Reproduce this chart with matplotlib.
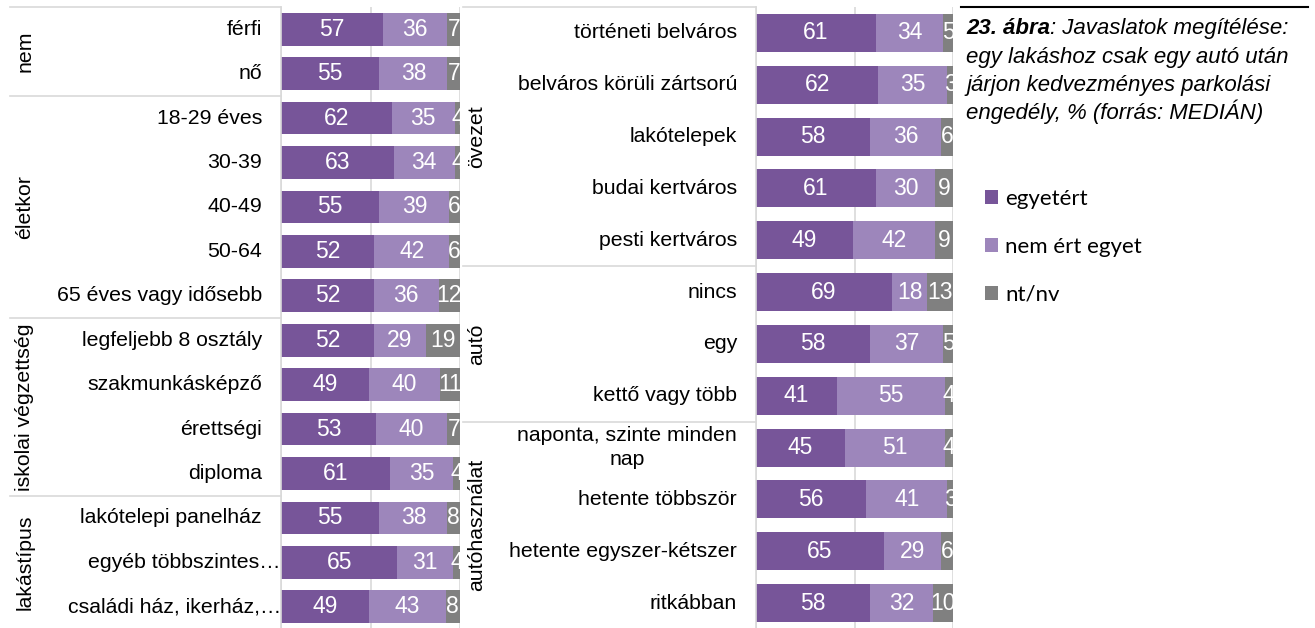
import matplotlib
matplotlib.use("Agg")
import matplotlib.pyplot as plt
import matplotlib.transforms as mtransforms
import numpy as np

plt.rcParams['font.family'] = ['Liberation Sans', 'DejaVu Sans']

# bal oldali panel: nem, életkor, iskolai végzettség, lakástípus
left_cats = ['férfi', 'nő', '18-29 éves', '30-39', '40-49', '50-64',
             '65 éves vagy idősebb', 'legfeljebb 8 osztály', 'szakmunkásképző',
             'érettségi', 'diploma', 'lakótelepi panelház',
             'egyéb többszintes…', 'családi ház, ikerház,…']
left_agree = [57, 55, 62, 63, 55, 52, 52, 52, 49, 53, 61, 55, 65, 49]
left_disagree = [36, 38, 35, 34, 39, 42, 36, 29, 40, 40, 35, 38, 31, 43]
left_na = [7, 7, 4, 4, 6, 6, 12, 19, 11, 7, 4, 8, 4, 8]
left_groups = ['nem', 'életkor', 'iskolai végzettség', 'lakástípus']
left_group_sizes = [2, 5, 4, 3]

# középső panel: övezet, autó, autóhasználat
mid_cats = ['történeti belváros', 'belváros körüli zártsorú', 'lakótelepek',
            'budai kertváros', 'pesti kertváros', 'nincs', 'egy',
            'kettő vagy több', 'naponta, szinte minden\nnap',
            'hetente többször', 'hetente egyszer-kétszer', 'ritkábban']
mid_agree = [61, 62, 58, 61, 49, 69, 58, 41, 45, 56, 65, 58]
mid_disagree = [34, 35, 36, 30, 42, 18, 37, 55, 51, 41, 29, 32]
mid_na = [5, 3, 6, 9, 9, 13, 5, 4, 4, 3, 6, 10]
mid_groups = ['övezet', 'autó', 'autóhasználat']
mid_group_sizes = [5, 3, 4]

series_names = ['egyetért', 'nem ért egyet', 'nt/nv']
colors = ['#775599', '#9d86bb', '#808080']
line_col = '#d9d9d9'

W, H = 1315, 628
fig = plt.figure(figsize=(W / 100, H / 100), dpi=100)


def px(x):
    return x / W


def panel(rect, cats, agree, disagree, na, groups, sizes, lab_left, group_x):
    ax = fig.add_axes(rect)
    y = np.arange(len(cats))
    left = np.zeros(len(cats))
    conts = []
    for vals, col, name in zip([agree, disagree, na], colors, series_names):
        c = ax.barh(y, vals, left=left, height=0.735, color=col, label=name, zorder=2)
        ax.bar_label(c, labels=[str(v) for v in vals], label_type='center',
                     color='white', fontsize=16.5, clip_on=True)
        left = left + np.array(vals)
        conts.append(c)
    ax.set_xlim(0, 100)
    ax.set_ylim(len(cats) - 0.5, -0.5)
    ax.set_xticks([0, 50, 100])
    ax.set_yticks([])
    ax.tick_params(length=0, labelbottom=False)
    ax.grid(axis='x', color=line_col, lw=1.2, zorder=0)
    for s in ['top', 'bottom', 'right']:
        ax.spines[s].set_visible(False)
    ax.spines['left'].set_color(line_col)
    ax.spines['left'].set_linewidth(1.2)

    # kategória feliratok
    for i, lab in enumerate(cats):
        pad = 0 if lab.endswith('…') else 19
        tr = ax.get_yaxis_transform() + mtransforms.ScaledTranslation(
            -pad / 100, 0, fig.dpi_scale_trans)
        ax.text(0, i, lab, transform=tr, ha='right', va='center', fontsize=15.3,
                multialignment='center', linespacing=1.35, clip_on=False)

    # csoport elválasztók és csoportnevek
    tr_line = mtransforms.blended_transform_factory(fig.transFigure, ax.transData)
    edges = np.concatenate([[0], np.cumsum(sizes)]) - 0.5
    for e in edges:
        ax.plot([lab_left, rect[0]], [e, e], color=line_col, lw=1.2,
                transform=tr_line, clip_on=False)
    for name, a, b in zip(groups, edges[:-1], edges[1:]):
        ax.text(group_x, (a + b) / 2, name, transform=tr_line, rotation=90,
                ha='center', va='center', fontsize=15.3)
    return ax, conts


ax1, _ = panel([px(281), -0.0016, px(460 - 281), 0.9904], left_cats, left_agree,
               left_disagree, left_na, left_groups, left_group_sizes, px(10), px(25))
ax2, conts = panel([px(756), -0.0016, px(953 - 756), 0.9904], mid_cats, mid_agree,
                   mid_disagree, mid_na, mid_groups, mid_group_sizes, px(463), px(477))

# cím a jobb oldalon
ov = fig.add_axes([0, 0, 1, 1])
ov.axis('off')
ov.set_xlim(0, 1)
ov.set_ylim(0, 1)
ov.plot([px(961), px(1308)], [1 - 6.7 / H, 1 - 6.7 / H], color='black', lw=1.5)
t1 = ov.text(px(966), 1 - 34 / H, '23. ábra', fontsize=16, style='italic',
             weight='bold', va='baseline')
ov.annotate(': Javaslatok megítélése:', xy=(1, 0), xycoords=t1, va='bottom',
            fontsize=16, style='italic')
title_rest = ['egy lakáshoz csak egy autó után', 'járjon kedvezményes parkolási',
              'engedély, % (forrás: MEDIÁN)']
for k, line in enumerate(title_rest):
    ov.text(px(966), 1 - (34 + 28.5 * (k + 1)) / H, line, fontsize=16,
            style='italic', va='baseline')

fig.legend(handles=conts, labels=series_names, loc='upper left',
           bbox_to_anchor=(px(985), 1 - 189 / H), frameon=False,
           prop={'family': 'Lato', 'size': 16}, handlelength=0.6,
           handleheight=0.6, handletextpad=0.3, labelspacing=1.25,
           borderpad=0, borderaxespad=0)

fig.savefig('out.png', dpi=100)
